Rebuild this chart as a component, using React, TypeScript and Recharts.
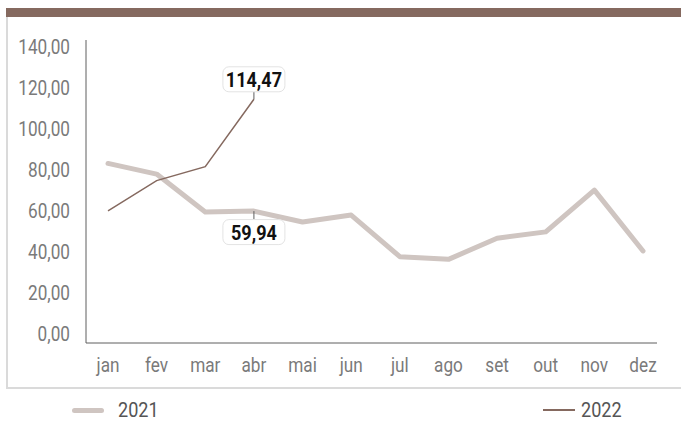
import { LabelList, Line, LineChart, XAxis, YAxis } from "recharts";

const MONTHS = ["jan", "fev", "mar", "abr", "mai", "jun", "jul", "ago", "set", "out", "nov", "dez"];
const SERIES_2021 = [83.2, 78.0, 59.5, 59.94, 54.6, 58.0, 37.7, 36.4, 46.7, 49.8, 70.2, 40.5];
const SERIES_2022 = [60.0, 74.8, 81.6, 114.47, null, null, null, null, null, null, null, null];
const Y_TICKS = [0, 20, 40, 60, 80, 100, 120, 140];

const LIGHT = "#cfc5c1";
const BROWN = "#85695f";
const AXIS = "#5f5f5f";
const TICK = "#7a7a7a";
const FONT = "Roboto, 'Noto Sans', sans-serif";
const SQUEEZE = 0.86;

const data = MONTHS.map((m, i) => ({ month: m, y2021: SERIES_2021[i], y2022: SERIES_2022[i] }));

const fmt = (v: number) => v.toFixed(2).replace(".", ",");

// narrow text: the original uses a condensed face we don't have
function NarrowText({ x, y, anchor, size, fill, bold, children }: any) {
  return (
    <text
      transform={`translate(${x},${y}) scale(${SQUEEZE},1)`}
      textAnchor={anchor}
      fontSize={size}
      fontWeight={bold ? "bold" : "normal"}
      fill={fill}
      fontFamily={FONT}
    >
      {children}
    </text>
  );
}

function YTick({ y, payload }: any) {
  return (
    <NarrowText x={70} y={y + 7} anchor="end" size={20} fill={TICK}>
      {fmt(payload.value)}
    </NarrowText>
  );
}

function XTick({ x, payload }: any) {
  return (
    <NarrowText x={x} y={372} anchor="middle" size={20} fill={TICK}>
      {payload.value}
    </NarrowText>
  );
}

function ValueBadge({ x, y, value, index, target, above }: any) {
  if (index !== target || value == null) return null;
  const w = 62;
  const h = 25;
  const cy = above ? y - 20 : y + 21;
  return (
    <g>
      <line
        x1={x}
        y1={y}
        x2={x}
        y2={above ? cy + h / 2 : cy - h / 2}
        stroke={AXIS}
        strokeWidth={1}
      />
      <rect
        x={x - w / 2}
        y={cy - h / 2}
        width={w}
        height={h}
        rx={6}
        fill="#ffffff"
        stroke="#e3e3e3"
      />
      <NarrowText x={x} y={cy + 7.5} anchor="middle" size={21} fill="#111111" bold>
        {fmt(value)}
      </NarrowText>
    </g>
  );
}

export default function App() {
  const legendText = {
    display: "inline-block",
    fontSize: 21,
    lineHeight: "22px",
    color: "#555555",
    transform: `scaleX(${SQUEEZE})`,
    transformOrigin: "left center",
  } as const;

  return (
    <div
      style={{
        position: "absolute",
        left: 0,
        top: 0,
        width: 681,
        height: 422,
        background: "#ffffff",
        fontFamily: FONT,
        overflow: "hidden",
      }}
    >
      <div style={{ position: "absolute", left: 6, top: 8, width: 675, height: 9, background: BROWN }} />
      <div style={{ position: "absolute", left: 6, top: 17, width: 2, height: 372, background: "#dadada" }} />
      <div style={{ position: "absolute", left: 6, top: 387, width: 675, height: 2, background: "#dadada" }} />

      <LineChart
        width={681}
        height={422}
        data={data}
        margin={{ top: 40, right: 24, left: 8, bottom: 49 }}
      >
        <XAxis
          dataKey="month"
          scale="point"
          padding={{ left: 22, right: 14 }}
          tick={<XTick />}
          tickLine={false}
          axisLine={{ stroke: AXIS }}
          height={30}
          interval={0}
        />
        <YAxis
          domain={[-4.4, 143.4]}
          ticks={Y_TICKS}
          tick={<YTick />}
          tickLine={false}
          axisLine={{ stroke: AXIS }}
          width={78}
        />
        <Line
          dataKey="y2021"
          stroke={LIGHT}
          strokeWidth={5}
          strokeLinecap="round"
          strokeLinejoin="round"
          dot={false}
          activeDot={false}
          isAnimationActive={false}
        >
          <LabelList dataKey="y2021" content={<ValueBadge target={3} above={false} />} />
        </Line>
        <Line
          dataKey="y2022"
          stroke={BROWN}
          strokeWidth={1.5}
          dot={false}
          activeDot={false}
          isAnimationActive={false}
        >
          <LabelList dataKey="y2022" content={<ValueBadge target={3} above={true} />} />
        </Line>
      </LineChart>

      {/* Legend */}
      <div style={{ position: "absolute", left: 72, top: 399, height: 22, display: "flex", alignItems: "center" }}>
        <span style={{ display: "block", width: 32, height: 5, borderRadius: 3, background: LIGHT }} />
        <span style={{ ...legendText, marginLeft: 14 }}>2021</span>
      </div>
      <div style={{ position: "absolute", left: 543, top: 399, height: 22, display: "flex", alignItems: "center" }}>
        <span style={{ display: "block", width: 32, height: 2, background: BROWN }} />
        <span style={{ ...legendText, marginLeft: 6 }}>2022</span>
      </div>
    </div>
  );
}
